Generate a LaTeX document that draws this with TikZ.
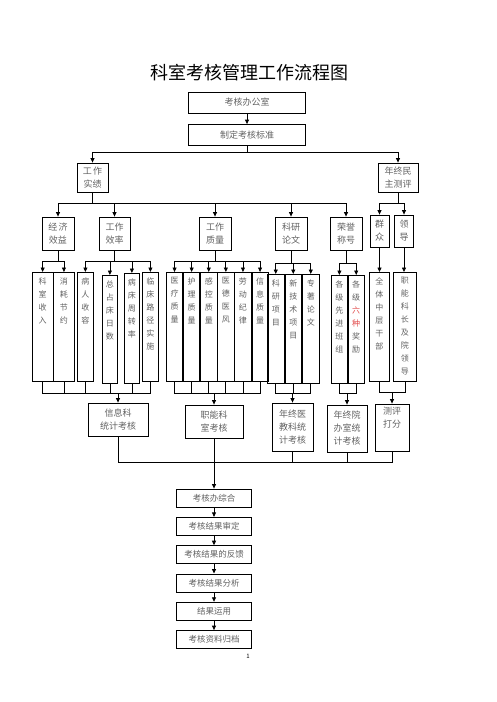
\documentclass[tikz,border=0pt]{standalone}
\usepackage{fontspec}
\setmainfont{Noto Sans CJK SC}
\usepackage{tikz}
\usetikzlibrary{arrows.meta, positioning}
\usepackage{xcolor}
\definecolor{txtgray}{gray}{0.38}
\definecolor{awardred}{RGB}{225,70,70}
\newcommand{\vcol}[2][109pt]{\parbox[t][#1][t]{12pt}{\centering\vspace*{5pt}#2}}

\begin{document}
\begin{tikzpicture}[
    x=1pt, y=-1pt,
    node distance=9.5pt,
    every node/.style={font=\fontsize{9}{13}\selectfont, text=txtgray},
    stagebox/.style={rectangle, draw, line width=0.8pt, inner sep=0pt, align=center},
    subbox/.style={rectangle, draw, line width=0.8pt, inner sep=0pt, minimum width=#1, anchor=north west, font=\fontsize{8}{13}\selectfont},
    subbox/.default=16,
    chainbox/.style={stagebox, minimum width=75, minimum height=18, font=\fontsize{8.5}{10}\selectfont},
    arrow/.style={-{Triangle[length=4.5pt, width=4pt]}, line width=0.8pt},
    link/.style={line width=0.8pt},
]
\useasboundingbox (0,0) rectangle (496,702);

% Title
\node[font=\fontsize{18}{20}\selectfont, text=black] (title) at (249,73) {科室考核管理工作流程图};

% Top
\node[stagebox, minimum width=117, minimum height=21] (office) at (247,102.5) {考核办公室};
\node[stagebox, minimum width=117, minimum height=21] (standard) at (247,135) {制定考核标准};
\node[stagebox, minimum width=31, minimum height=29] (perf) at (92.5,177.5) {工\,作\\实绩};
\node[stagebox, minimum width=40, minimum height=29] (vote) at (398,177.5) {年终民\\主测评};

% Second level
\node[stagebox, minimum width=32, minimum height=33] (econ) at (58,233.5) {经\,济\\效益};
\node[stagebox, minimum width=31, minimum height=33] (effic) at (114.5,233.5) {工作\\效率};
\node[stagebox, minimum width=32, minimum height=33] (qual) at (215,233.5) {工作\\质量};
\node[stagebox, minimum width=32, minimum height=33] (paper) at (291,233.5) {科研\\论文};
\node[stagebox, minimum width=32, minimum height=33] (honor) at (346,233.5) {荣誉\\称号};
\node[stagebox, minimum width=19, minimum height=32] (mass) at (379.5,231) {群\\众};
\node[stagebox, minimum width=19, minimum height=32] (lead) at (404,231) {领\\导};

% Items
\node[subbox=20.5] (e1) at (32,272) {\vcol{科\\室\\收\\入}};
\node[subbox=20.5, right=0pt of e1] (e2) {\vcol{消\\耗\\节\\约}};

\node[subbox] (f1) at (77,272) {\vcol{病\\人\\收\\容}};
\node[subbox=15] (f2) at (102,275) {\vcol[108pt]{总\\占\\床\\日\\数}};
\node[subbox=15] (f3) at (124,273) {\vcol[110pt]{病\\床\\周\\转\\率}};
\node[subbox] (f4) at (142,272) {\vcol{临\\床\\路\\径\\实\\施}};

\node[subbox=16.3] (q1) at (166,272) {\vcol{医\\疗\\质\\量}};
\node[subbox=16.3, right=0pt of q1] (q2) {\vcol{护\\理\\质\\量}};
\node[subbox=16.3, right=0pt of q2] (q3) {\vcol{感\\控\\质\\量}};
\node[subbox=16.3, right=0pt of q3] (q4) {\vcol{医\\德\\医\\风}};
\node[subbox=16.3, right=0pt of q4] (q5) {\vcol{劳\\动\\纪\\律}};
\node[subbox=16.3, right=0pt of q5] (q6) {\vcol{信\\息\\质\\量}};

\node[subbox=16.7] (p1) at (267,274) {\vcol{科\\研\\项\\目}};
\node[subbox=16.7, right=0pt of p1] (p2) {\vcol{新\\技\\术\\项\\目}};
\node[subbox=16.7, right=0pt of p2] (p3) {\vcol{专\\著\\论\\文}};

\node[subbox] (h1) at (331,275) {\vcol[108pt]{各\\级\\先\\进\\班\\组}};
\node[subbox, right=0pt of h1] (h2) {\vcol[108pt]{各\\级\\{\color{awardred}六}\\{\color{awardred}种}\\奖\\励}};

\node[subbox=20] (m1) at (369,272) {\vcol{全\\体\\中\\层\\干\\部}};
\node[subbox=23] (l1) at (393,272) {\vcol{职\\能\\科\\长\\及\\院\\领\\导}};

% Checks
\node[stagebox, minimum width=60, minimum height=33] (stat) at (118,419.5) {信息科\\统计考核};
\node[stagebox, minimum width=58, minimum height=33] (eval) at (214,421.5) {职能科\\室考核};
\node[stagebox, minimum width=41, minimum height=48] (yearmed) at (292.5,427) {年终医\\教科统\\计考核};
\node[stagebox, minimum width=40, minimum height=47] (yearoff) at (347,428.5) {年终院\\办室统\\计考核};
\node[stagebox, minimum width=34, minimum height=47] (score) at (392,427.5) {\parbox[t][47pt][t]{30pt}{\centering\vspace*{3pt}测评\\打分}};

% Result chain
\node[chainbox] (k1) at (214,498) {考核办综合};
\node[chainbox, below=of k1] (k2) {考核结果审定};
\node[chainbox, below=of k2] (k3) {考核结果的反馈};
\node[chainbox, below=of k3] (k4) {考核结果分析};
\node[chainbox, below=of k4] (k5) {结果运用};
\node[chainbox, below=of k5] (k6) {考核资料归档};

\node[font=\fontsize{6}{7}\selectfont, text=black] (pageno) at (248,656) {1};

% Arrows
\draw[arrow] (office) -- (standard);
\coordinate (bus1) at (247,152);
\draw[link] (standard) -- (bus1);
\draw[arrow] (bus1) -| (perf);
\draw[arrow] (bus1) -| (vote);

\coordinate (bus2) at (92.5,203);
\draw[link] (perf) -- (bus2);
\foreach \n in {econ,effic,qual,paper,honor}
    \draw[arrow] (bus2) -| (\n);
\coordinate (bus2r) at (398,203);
\draw[link] (vote) -- (bus2r);
\draw[arrow] (bus2r) -| (mass);
\draw[arrow] (bus2r) -| (lead);

\coordinate (bus3e) at (58,261);
\draw[link] (econ) -- (bus3e);
\foreach \n in {e1,e2} \draw[arrow] (bus3e) -| (\n);
\coordinate (bus3f) at (114.5,261);
\draw[link] (effic) -- (bus3f);
\foreach \n in {f1,f2,f3,f4} \draw[arrow] (bus3f) -| (\n);
\coordinate (bus3q) at (215,261);
\draw[link] (qual) -- (bus3q);
\foreach \n in {q1,q2,q3,q4,q5,q6} \draw[arrow] (bus3q) -| (\n);
\coordinate (bus3p) at (291,263);
\draw[link] (paper) -- (bus3p);
\foreach \n in {p1,p2,p3} \draw[arrow] (bus3p) -| (\n);
\coordinate (bus3h) at (346,263);
\draw[link] (honor) -- (bus3h);
\foreach \n in {h1,h2} \draw[arrow] (bus3h) -| (\n);
\draw[arrow] (mass.south) -- (mass.south |- m1.north);
\draw[arrow] (lead.south) -- (lead.south |- l1.north);

% Items to checks
\coordinate (bus4a) at (118,393);
\foreach \n in {e1,e2,f1,f2,f3,f4} \draw[link] (\n) |- (bus4a);
\draw[arrow] (bus4a) -- (stat);
\coordinate (bus4b) at (214,393);
\foreach \n in {q1,q2,q3,q4,q5,q6} \draw[link] (\n) |- (bus4b);
\draw[arrow] (bus4b) -- (eval);
\coordinate (bus4c) at (292.5,393);
\foreach \n in {p1,p2,p3} \draw[link] (\n) |- (bus4c);
\draw[arrow] (bus4c) -- (yearmed);
\coordinate (bus4d) at (347,393);
\foreach \n in {h1,h2} \draw[link] (\n) |- (bus4d);
\draw[arrow] (bus4d) -- (yearoff);
\coordinate (bus4e) at (392,392);
\foreach \n in {m1,l1} \draw[link] (\n) |- (bus4e);
\draw[arrow] (bus4e) -- (score);

% Checks to chain
\coordinate (bus5) at (214,462);
\foreach \n in {stat,yearmed,yearoff,score} \draw[link] (\n) |- (bus5);
\draw[link] (eval) -- (bus5);
\draw[arrow] (bus5) -- (k1);
\foreach \a/\b in {k1/k2,k2/k3,k3/k4,k4/k5,k5/k6}
    \draw[arrow] (\a) -- (\b);

\end{tikzpicture}
\end{document}
